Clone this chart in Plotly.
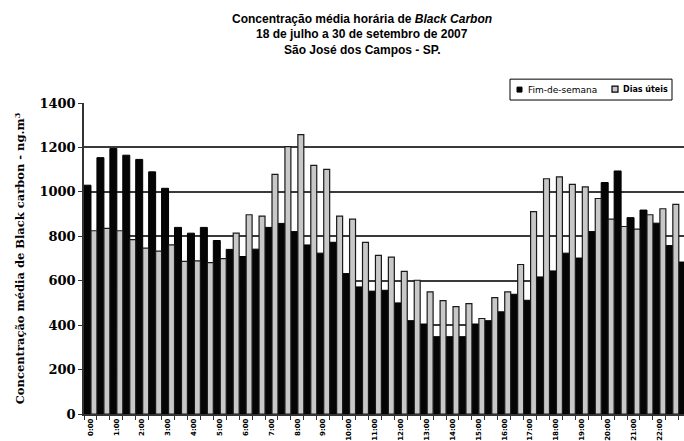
import plotly.graph_objects as go

# Half-hourly time slots over the day
horarios = [f"{h}:{m:02d}" for h in range(24) for m in (0, 30)]

# Hour labels shown on the axis (every full hour, blank on half hours)
rotulos = [f"{h}:00" if m == 0 else " " for h in range(24) for m in (0, 30)]

# Mean Black Carbon concentration (ng/m3) - weekends
fim_de_semana = [
    1030, 1154, 1195, 1165, 1146, 1090, 1016, 840, 814, 840, 781, 741,
    709, 742, 840, 858, 821, 761, 724, 773, 632, 572, 553, 557,
    500, 420, 405, 348, 348, 348, 405, 420, 460, 539, 512, 617,
    644, 724, 702, 821, 1042, 1094, 884, 918, 859, 758, 684, 700,
]

# Mean Black Carbon concentration (ng/m3) - weekdays
dias_uteis = [
    825, 836, 825, 785, 747, 733, 761, 687, 689, 681, 699, 814,
    897, 891, 1079, 1204, 1258, 1119, 1101, 891, 877, 773, 714, 706,
    642, 602, 550, 510, 483, 497, 430, 524, 550, 673, 911, 1059,
    1067, 1034, 1022, 970, 877, 844, 832, 897, 924, 944, 930, 900,
]

W, H = 684, 441
ML, MR, MT, MB = 84, 0, 103, 25
PW, PH = W - ML - MR, H - MT - MB


def px_x(x):
    return (x - ML) / PW


def px_y(y):
    return (H - MB - y) / PH


fig = go.Figure()
fig.add_trace(go.Bar(
    x=horarios, y=fim_de_semana, name="Fim-de-semana",
    offset=-0.5, width=0.54,
    marker=dict(color="#050505", line=dict(color="#000000", width=1)),
))
fig.add_trace(go.Bar(
    x=horarios, y=dias_uteis, name="Dias úteis",
    offset=0.04, width=0.46,
    marker=dict(color="#c8c8c8", line=dict(color="#1a1a1a", width=1.2)),
))

title_font = dict(family="Liberation Sans, Arial, sans-serif", size=12, color="#000000")
title_lines = [
    "<b>Concentração média horária de <i>Black Carbon</i></b>",
    "<b>18 de julho a 30 de setembro de 2007</b>",
    "<b>São José dos Campos - SP.</b>",
]

# Legend drawn as a small boxed key
shapes = [
    dict(type="rect", xref="paper", yref="paper",
         x0=px_x(510), x1=px_x(672), y0=px_y(100), y1=px_y(79),
         line=dict(color="#000000", width=1), fillcolor="white", layer="above"),
    dict(type="rect", xref="paper", yref="paper",
         x0=px_x(517), x1=px_x(522), y0=px_y(92), y1=px_y(87),
         line=dict(color="#000000", width=1), fillcolor="#000000", layer="above"),
    dict(type="rect", xref="paper", yref="paper",
         x0=px_x(612), x1=px_x(618), y0=px_y(92), y1=px_y(86),
         line=dict(color="#000000", width=1.2), fillcolor="#c8c8c8", layer="above"),
]
annotations = [
    dict(xref="paper", yref="paper", x=px_x(526), y=px_y(89.5),
         text="Fim-de-semana", showarrow=False, xanchor="left", yanchor="middle",
         font=dict(family="DejaVu Sans", size=9, color="#000000")),
    dict(xref="paper", yref="paper", x=px_x(621), y=px_y(89.5),
         text="<b>Dias úteis</b>", showarrow=False, xanchor="left", yanchor="middle",
         font=dict(family="DejaVu Sans", size=8, color="#000000")),
]
for i, line in enumerate(title_lines):
    annotations.append(dict(
        xref="paper", yref="paper", x=px_x(362), y=px_y(18 + 16 * i),
        text=line, showarrow=False, xanchor="center", yanchor="middle",
        font=title_font,
    ))

fig.update_layout(
    width=W, height=H,
    margin=dict(l=ML, r=MR, t=MT, b=MB),
    paper_bgcolor="white", plot_bgcolor="white",
    barmode="overlay",
    showlegend=False,
    shapes=shapes,
    annotations=annotations,
    xaxis=dict(
        type="category",
        range=[-0.5, PW / 12.93 - 0.5],
        tickmode="array", tickvals=horarios, ticktext=rotulos,
        tickson="boundaries", ticks="outside", ticklen=4, tickcolor="#333333",
        tickangle=-90,
        tickfont=dict(family="DejaVu Sans", size=7, color="#000000", weight="bold"),
        showgrid=False,
        showline=True, linecolor="#333333", linewidth=1.5,
    ),
    yaxis=dict(
        range=[0, 1400], tickmode="linear", tick0=0, dtick=200,
        ticks="outside", ticklen=4, tickcolor="#333333",
        tickfont=dict(family="DejaVu Serif", size=13, color="#000000", weight="bold"),
        showgrid=True, gridcolor="#3a3a3a", gridwidth=1.5,
        showline=True, linecolor="#333333", linewidth=1.5,
        zeroline=False,
        title=dict(text="<b>Concentração média de Black carbon - ng.m<sup>3</sup></b>",
                   font=dict(family="DejaVu Serif", size=11.5, color="#000000"),
                   standoff=12),
    ),
)

fig.write_html("out.html")
